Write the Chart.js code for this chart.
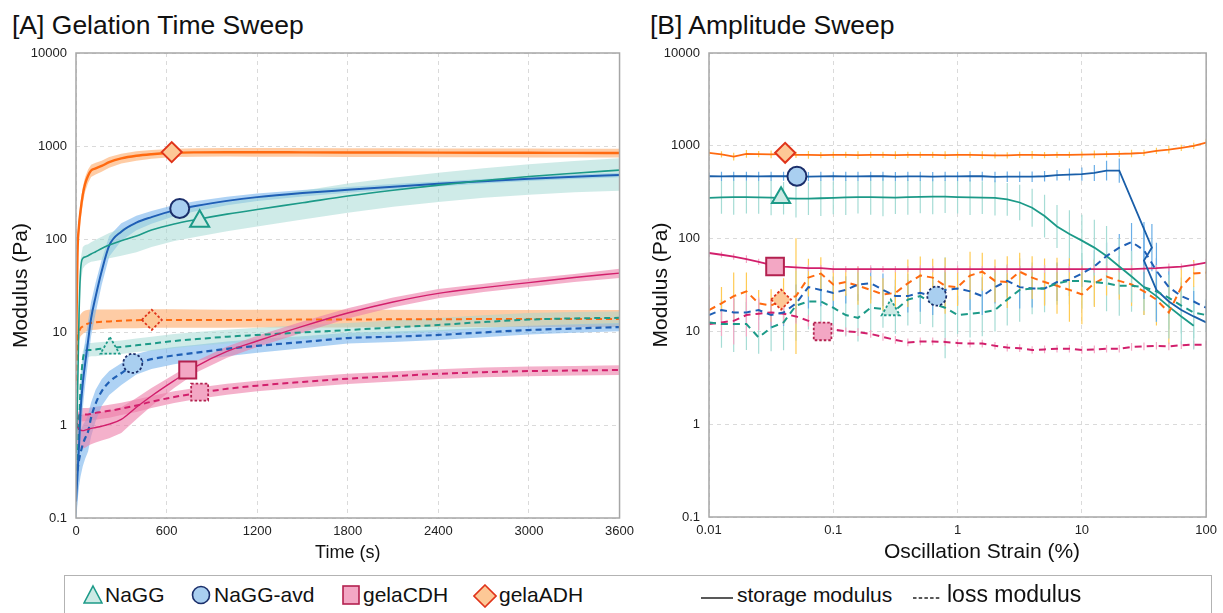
<!DOCTYPE html>
<html>
<head>
<meta charset="utf-8">
<script src="https://cdn.jsdelivr.net/npm/chart.js@4.4.1/dist/chart.umd.min.js"></script>
<style>
  body { margin: 0; background: #fff; font-family: "Liberation Sans", Arial, sans-serif; }
  #wrap { position: relative; width: 1223px; height: 613px; overflow: hidden; }
  .title { position: absolute; top: 10px; font-size: 26.5px; line-height: 30px; color: #111; white-space: nowrap; }
  #cA { position: absolute; left: 0; top: 0; }
  #cB { position: absolute; left: 640px; top: 0; }
  #xtB { position: absolute; left: 884px; top: 539px; font-size: 21px; line-height: 24px; color: #111; white-space: nowrap; }
  #legend { position: absolute; left: 64px; top: 575px; width: 1148px; height: 50px; border: 1.5px solid #b3b3b3; box-sizing: border-box; }
  .it { position: absolute; top: 6px; font-size: 21px; line-height: 26px; color: #111; white-space: nowrap; }
  .ic { position: absolute; top: 8px; }
</style>
</head>
<body>
<div id="wrap">
  <div class="title" style="left:12px">[A] Gelation Time Sweep</div>
  <div class="title" style="left:650px">[B] Amplitude Sweep</div>
  <canvas id="cA" width="640" height="570"></canvas>
  <canvas id="cB" width="583" height="570"></canvas>
  <div id="xtB">Oscillation Strain (%)</div>
  <div id="legend">
    <svg class="ic" style="left:18px" width="20" height="22"><polygon points="10,2 19,19 1,19" fill="#cdeae5" stroke="#1c9a88" stroke-width="1.6"/></svg>
    <div class="it" style="left:40px">NaGG</div>
    <svg class="ic" style="left:126px" width="20" height="22"><circle cx="10" cy="11" r="8.5" fill="#a9cff0" stroke="#1b2f6b" stroke-width="1.6"/></svg>
    <div class="it" style="left:149px">NaGG-avd</div>
    <svg class="ic" style="left:276px" width="20" height="22"><rect x="2" y="2" width="16" height="18" fill="#f3a7c4" stroke="#b3214f" stroke-width="1.6"/></svg>
    <div class="it" style="left:298px">gelaCDH</div>
    <svg class="ic" style="left:408px" width="24" height="24"><polygon points="12,1 23,12 12,23 1,12" fill="#fdc896" stroke="#e0341a" stroke-width="1.6"/></svg>
    <div class="it" style="left:434px">gelaADH</div>
    <svg class="ic" style="left:636px" width="34" height="22"><line x1="0" y1="14" x2="32" y2="14" stroke="#222" stroke-width="1.5"/></svg>
    <div class="it" style="left:672px">storage modulus</div>
    <svg class="ic" style="left:848px" width="30" height="22"><line x1="0" y1="14" x2="27" y2="14" stroke="#222" stroke-width="1.5" stroke-dasharray="3.5,2.2"/></svg>
    <div class="it" style="left:882px; font-size:23px; top:5px">loss modulus</div>
  </div>
</div>
<script>
// ---------- [A] gelation time sweep ----------
const timeS = [0, 10, 20, 30, 45, 60, 80, 100, 130, 170, 220, 300, 400, 500, 650, 800, 1000, 1200, 1500, 1800, 2100, 2400, 2700, 3000, 3300, 3600];

// storage modulus (Pa) and SD band
const adhG   = [5, 70, 140, 200, 300, 390, 480, 545, 575, 610, 670, 735, 785, 815, 845, 855, 858, 858, 855, 852, 850, 848, 846, 845, 843, 841];
const adhGHi = [9, 95, 180, 250, 360, 460, 560, 630, 660, 695, 760, 825, 880, 905, 935, 945, 950, 952, 950, 948, 945, 942, 940, 938, 936, 935];
const adhGLo = [3, 50, 105, 155, 240, 320, 400, 465, 495, 530, 585, 650, 695, 730, 760, 765, 770, 768, 765, 762, 760, 758, 756, 754, 752, 750];
const ggG    = [0.5, 2, 15, 45, 62, 64, 66, 69, 73, 79, 86, 96, 108, 125, 145, 162, 185, 208, 245, 290, 335, 380, 425, 470, 510, 550];
const ggGHi  = [1, 3, 22, 60, 82, 86, 88, 92, 98, 106, 116, 130, 146, 168, 196, 220, 248, 278, 330, 395, 455, 515, 575, 635, 690, 740];
const ggGLo  = [0.3, 1.3, 10, 32, 48, 52, 55, 57, 58, 60, 62, 66, 72, 82, 95, 106, 121, 136, 162, 192, 222, 250, 277, 300, 318, 330];
const avdG   = [0.15, 0.3, 0.6, 1.4, 2.8, 4.5, 8, 14, 24, 45, 85, 120, 150, 172, 203, 228, 257, 282, 312, 338, 365, 392, 418, 445, 468, 488];
const avdGHi = [0.3, 0.6, 1.2, 2.6, 5, 8, 13, 21, 34, 60, 108, 148, 178, 200, 232, 256, 284, 308, 337, 362, 390, 416, 442, 470, 493, 515];
const avdGLo = [0.08, 0.15, 0.3, 0.7, 1.5, 2.6, 4.8, 9, 16, 32, 65, 96, 124, 146, 176, 200, 230, 256, 287, 314, 341, 368, 394, 420, 443, 462];
const cdhG   = [1.0, 0.95, 0.9, 0.88, 0.87, 0.88, 0.9, 0.92, 0.94, 0.97, 1.02, 1.15, 1.55, 2.05, 3.0, 4.3, 6.2, 8.0, 11.5, 16, 21, 26, 30, 34, 38.5, 43];
const cdhGHi = [1.5, 1.4, 1.35, 1.3, 1.3, 1.3, 1.3, 1.32, 1.35, 1.38, 1.42, 1.55, 1.95, 2.5, 3.5, 4.9, 7.0, 9.1, 13, 18, 23.5, 29, 33, 37.5, 42, 48];
const cdhGLo = [0.65, 0.6, 0.58, 0.56, 0.56, 0.57, 0.6, 0.62, 0.65, 0.68, 0.72, 0.82, 1.15, 1.6, 2.5, 3.7, 5.3, 6.9, 9.8, 14, 18.5, 23, 27, 30.5, 34.5, 38];

// loss modulus (Pa) and SD band
const adhL   = [3, 8, 10, 11, 11.5, 12, 12.3, 12.5, 12.7, 12.9, 13.0, 13.2, 13.4, 13.5, 13.5, 13.5, 13.5, 13.5, 13.6, 13.6, 13.7, 13.7, 13.8, 13.8, 13.8, 13.8];
const adhLHi = [5, 11, 14, 15.5, 16.5, 17, 17.3, 17.5, 17.5, 17.5, 17.5, 17.5, 17.6, 17.6, 17.6, 17.5, 17.4, 17.4, 17.3, 17.3, 17.3, 17.2, 17.2, 17.2, 17.2, 17.2];
const adhLLo = [2, 6, 8, 9, 9.5, 10, 10.3, 10.5, 10.6, 10.8, 10.9, 11, 11, 11.1, 11.1, 11.1, 11.1, 11.2, 11.2, 11.2, 11.3, 11.3, 11.3, 11.3, 11.3, 11.3];
const ggL    = [0.2, 0.4, 1.0, 2.5, 5, 6.2, 6.4, 6.4, 6.5, 6.6, 6.7, 6.9, 7.2, 7.5, 8.0, 8.4, 8.9, 9.3, 9.9, 10.5, 11.2, 11.9, 12.8, 13.6, 14, 14.2];
const ggLHi  = [0.3, 0.6, 1.4, 3.3, 6.2, 7.4, 7.6, 7.6, 7.7, 7.8, 7.9, 8.1, 8.5, 8.9, 9.5, 10, 10.6, 11.1, 11.8, 12.5, 13.3, 14.1, 15.1, 16, 16.4, 16.6];
const ggLLo  = [0.14, 0.28, 0.7, 1.8, 3.9, 5.1, 5.4, 5.5, 5.5, 5.6, 5.7, 5.8, 6.1, 6.3, 6.7, 7.1, 7.5, 7.9, 8.4, 8.9, 9.5, 10.1, 10.9, 11.6, 11.9, 12.1];
const avdL   = [0.25, 0.33, 0.42, 0.5, 0.62, 0.72, 0.85, 1.2, 1.7, 2.3, 2.9, 3.6, 4.6, 5.1, 5.6, 6.0, 6.6, 7.1, 7.8, 8.6, 8.9, 9.3, 9.9, 10.5, 10.9, 11.3];
const avdLHi = [0.5, 0.6, 0.75, 0.85, 1.0, 1.1, 1.3, 1.75, 2.4, 3.1, 3.8, 4.6, 5.8, 6.4, 6.9, 7.3, 7.9, 8.4, 9.0, 9.8, 10.1, 10.5, 11.1, 11.7, 12.1, 12.5];
const avdLLo = [0.1, 0.15, 0.22, 0.28, 0.36, 0.43, 0.52, 0.75, 1.1, 1.6, 2.1, 2.7, 3.5, 4.0, 4.5, 4.9, 5.5, 6.0, 6.7, 7.5, 7.8, 8.2, 8.8, 9.4, 9.8, 10.2];
const cdhL   = [0.9, 1.1, 1.25, 1.28, 1.3, 1.3, 1.3, 1.32, 1.35, 1.38, 1.42, 1.5, 1.62, 1.78, 2.0, 2.2, 2.45, 2.65, 2.9, 3.15, 3.35, 3.55, 3.7, 3.8, 3.85, 3.9];
const cdhLHi = [1.1, 1.3, 1.45, 1.5, 1.52, 1.52, 1.52, 1.54, 1.57, 1.6, 1.65, 1.74, 1.88, 2.05, 2.3, 2.52, 2.78, 3.0, 3.28, 3.55, 3.77, 3.98, 4.15, 4.26, 4.32, 4.38];
const cdhLLo = [0.72, 0.92, 1.06, 1.09, 1.1, 1.1, 1.1, 1.12, 1.14, 1.17, 1.2, 1.28, 1.38, 1.52, 1.72, 1.9, 2.12, 2.3, 2.53, 2.76, 2.94, 3.12, 3.26, 3.35, 3.4, 3.45];

// sample markers: NaGG, NaGG-avd, gelaCDH, gelaADH
const mkTimeG = [819, 687, 740, 634];
const mkValG  = [155, 213, 3.9, 860];
const mkTimeL = [225, 376, 819, 502];
const mkValL  = [6.7, 4.6, 2.26, 13.5];

// ---------- [B] amplitude sweep ----------
const strainPct = [0.01, 0.0126, 0.0158, 0.02, 0.0251, 0.0316, 0.0398, 0.0501, 0.0631, 0.0794,
  0.1, 0.126, 0.158, 0.2, 0.251, 0.316, 0.398, 0.501, 0.631, 0.794,
  1, 1.26, 1.58, 2, 2.51, 3.16, 3.98, 5.01, 6.31, 7.94,
  10, 12.6, 15.8, 20, 25.1, 31.6, 39.8, 50.1, 63.1, 79.4, 100];
const strainAvdG = [0.01, 0.0126, 0.0158, 0.02, 0.0251, 0.0316, 0.0398, 0.0501, 0.0631, 0.0794,
  0.1, 0.126, 0.158, 0.2, 0.251, 0.316, 0.398, 0.501, 0.631, 0.794,
  1, 1.26, 1.58, 2, 2.51, 3.16, 3.98, 5.01, 6.31, 7.94,
  10, 12.6, 15.8, 20, 36.6, 31.6, 39.8, 50.1, 63.1, 79.4, 100];

const adhGs = [840, 810, 765, 820, 815, 810, 820, 800, 800, 795, 800, 800, 795, 800, 800, 795, 800, 800, 800, 795,
  800, 800, 795, 790, 790, 800, 800, 795, 800, 800, 805, 810, 815, 820, 826, 840, 880, 910, 950, 1000, 1080];
const avdGs = [470, 468, 470, 470, 468, 470, 470, 472, 465, 468, 470, 468, 468, 470, 470, 465, 468, 468, 466, 468,
  468, 470, 470, 462, 465, 465, 465, 470, 482, 490, 495, 510, 540, 540, 80, 58, 28, 21, 17, 14.5, 12.5];
const ggGs  = [275, 278, 280, 280, 278, 276, 272, 270, 270, 272, 275, 278, 280, 280, 278, 276, 280, 282, 283, 283,
  280, 278, 276, 275, 265, 245, 215, 175, 135, 112, 95, 80, 65, 50, 39, 30, 24, 18.5, 14.5, 11.5, null];
const cdhGs = [70, 67, 64, 60, 56, 52, 50, 49, 48, 48, 47, 47, 47, 47, 47, 47, 47, 47, 47, 47,
  47, 47, 47, 47, 47, 47, 47, 47, 47, 47, 47, 47, 47, 47, 47, 47.5, 48, 49, 50, 52, 55];

const adhLs = [17, 20, 24, 27, 20, 19, 22, 24, 38, 42, 32, 34, 31, 28, 25, 26, 33, 40, 38, 31,
  30, 40, 44, 35, 34, 44, 38, 34, 31, 28, 25, 33, 39, 35, 32, 27, 22, 16, 30, 42, 43];
const avdLs = [15, 17, 16, 16, 17, 15, 16, 20, 30, 28, 26, 28, 32, 33, 28, 24, 24, 26, 24, 28,
  29, 27, 24, 30, 35, 30, 29, 29, 34, 36, 42, 50, 65, 80, 92, 75, 45, 30, 24, 21, 18];
const ggLs  = [12.5, 12, 12, 12, 8.6, 11, 12.5, 19, 21, 21, 18, 15, 14, 18, 17.5, 17, 22, 24, 20, 18,
  15, 15.5, 16, 17, 22, 28, 29, 29, 33, 35, 35, 34, 33, 31, 31, 30, 27, 23, 19, 16, 15];
const cdhLs = [12, 12.5, 13, 15, 15.5, 16, 15.5, 14.5, 13, 11.5, 10.5, 10, 9.8, 9.4, 8.7, 8.1, 7.6, 7.8, 7.8, 7.7,
  7.5, 7.4, 7.4, 7.0, 6.7, 6.6, 6.3, 6.4, 6.5, 6.5, 6.3, 6.4, 6.5, 6.5, 6.8, 6.9, 7.0, 6.9, 7.1, 7.2, 7.2];

// error bars as multiplicative factors (value*f .. value/f)
const adhGErr = [1.08, 1.08, 1.1, 1.1, 1.08, 1.1, 1.08, 1.08, 1.1, 1.08, 1.08, 1.08, 1.1, 1.08, 1.08, 1.1, 1.08, 1.08, 1.08, 1.1,
  1.08, 1.08, 1.1, 1.08, 1.08, 1.08, 1.1, 1.08, 1.08, 1.08, 1.08, 1.1, 1.08, 1.08, 1.1, 1.08, 1.08, 1.1, 1.08, 1.08, 1.1];
const avdGErr = [1.1, 1.12, 1.12, 1.12, 1.12, 1.12, 1.12, 1.12, 1.12, 1.12, 1.12, 1.12, 1.12, 1.12, 1.12, 1.12, 1.12, 1.12, 1.12, 1.12,
  1.12, 1.14, 1.12, 1.14, 1.14, 1.14, 1.14, 1.14, 1.14, 1.16, 1.18, 1.22, 1.28, 1.35, 1.8, 2.6, 2.2, 0, 0, 0, 0];
const ggGErr  = [1.5, 1.5, 1.55, 1.5, 1.5, 1.55, 1.5, 1.6, 1.5, 1.55, 1.5, 1.55, 1.5, 1.55, 1.6, 1.5, 1.55, 1.5, 1.55, 1.5,
  1.5, 1.55, 1.5, 1.55, 1.5, 1.55, 1.6, 1.7, 1.7, 1.8, 1.9, 2.0, 2.1, 2.0, 1.9, 1.8, 1.9, 2.2, 2.0, 1.8, 0];
const cdhGErr = [1.1, 1.08, 1.08, 1.1, 1.08, 1.08, 1.1, 1.08, 1.08, 1.08, 1.1, 1.08, 1.08, 1.1, 1.08, 1.08, 1.08, 1.1, 1.08, 1.08,
  1.1, 1.08, 1.08, 1.08, 1.1, 1.08, 1.08, 1.1, 1.08, 1.08, 1.08, 1.1, 1.08, 1.08, 1.1, 1.08, 1.08, 1.1, 1.08, 1.08, 1.1];
const adhLErr = [1.3, 1.5, 1.8, 1.6, 1.4, 1.5, 1.7, 4.2, 1.6, 1.5, 1.5, 1.4, 1.6, 1.4, 1.5, 1.7, 1.8, 1.6, 1.6, 2.0,
  1.6, 1.8, 1.6, 1.7, 1.9, 1.6, 1.7, 1.8, 2.0, 2.2, 2.1, 1.8, 1.6, 1.6, 1.7, 1.8, 1.9, 2.2, 1.6, 1.4, 1.2];
const avdLErr = [1.3, 1.3, 1.4, 1.3, 1.3, 1.4, 1.4, 1.6, 1.7, 1.5, 1.5, 1.4, 1.5, 1.5, 1.5, 1.5, 1.5, 1.6, 1.6, 1.6,
  1.5, 1.6, 1.6, 1.5, 1.5, 1.7, 1.6, 1.5, 1.6, 1.5, 1.4, 1.5, 1.4, 1.4, 1.6, 1.8, 2.0, 1.6, 1.4, 1.3, 1.2];
const ggLErr  = [1.8, 1.8, 2.0, 1.9, 1.5, 1.8, 2.0, 2.4, 2.0, 2.1, 1.8, 1.7, 1.8, 1.8, 1.6, 1.8, 1.9, 2.0, 1.8, 3.5,
  1.6, 1.8, 1.8, 1.7, 1.9, 2.2, 1.9, 1.8, 1.7, 1.8, 2.0, 1.8, 2.0, 2.1, 1.9, 2.0, 2.0, 2.2, 2.0, 1.9, 1.5];
const cdhLErr = [2.5, 1.4, 1.8, 1.7, 1.5, 1.4, 1.3, 1.2, 1.15, 1.12, 1.12, 1.1, 1.1, 1.1, 1.1, 1.1, 1.1, 1.1, 1.1, 1.1,
  1.1, 1.1, 1.1, 1.1, 1.1, 1.1, 1.1, 1.1, 1.1, 1.1, 1.1, 1.1, 1.1, 1.1, 1.1, 1.1, 1.1, 1.1, 1.1, 1.1, 1.1];

const mkStrainG = [0.038, 0.051, 0.034, 0.041];
const mkValGs   = [275, 470, 50, 840];
const mkStrainL = [0.29, 0.68, 0.082, 0.038];
const mkValLs   = [17, 24, 10, 22];

const decadesY = [0.1, 1, 10, 100, 1000, 10000];
const decadesX = [0.01, 0.1, 1, 10, 100];

// ---------- styling ----------
const C = {
  teal: '#1c9a88', blue: '#1f5fb5', pink: '#d21f6c', orange: '#ff6a10',
  tealBand: 'rgba(160,215,209,0.5)', blueBand: 'rgba(120,180,236,0.6)',
  pinkBand: 'rgba(236,125,168,0.6)', orangeBand: 'rgba(253,170,105,0.6)',
  tealErr: '#a6dcd5', blueErr: '#6aaee6', pinkErr: '#f4a9c5', orangeErr: '#ffcb55'
};
const mkStyle = ['triangle', 'circle', 'rect', 'rectRot'];
const mkFill = ['#cdeae5', '#a9cff0', '#f3a7c4', '#fdc896'];
const mkLine = ['#1c9a88', '#1b2f6b', '#b3214f', '#e0341a'];

Chart.defaults.font.family = '"Liberation Sans", Arial, sans-serif';
Chart.defaults.color = '#222';

const xy = (xs, ys) => xs.map((x, i) => ({x: x, y: ys[i]}));

function band(xs, lo, hi, color) {
  return [
    {data: xy(xs, lo), borderWidth: 0, pointRadius: 0, fill: false, order: 10},
    {data: xy(xs, hi), borderWidth: 0, pointRadius: 0, fill: '-1', backgroundColor: color, order: 10}
  ];
}
function curve(xs, ys, color, width, dashed, extra) {
  return Object.assign({
    data: xy(xs, ys), borderColor: color, borderWidth: width, pointRadius: 0, fill: false,
    borderDash: dashed ? [6, 4] : [], order: 5
  }, extra || {});
}
function markers(xs, ys, radii, dotted) {
  return {
    data: xy(xs, ys), showLine: false, pointStyle: mkStyle, pointRadius: radii,
    pointBackgroundColor: mkFill, pointBorderColor: mkLine, pointBorderWidth: dotted ? 1.8 : 2,
    dotted: dotted, order: 0
  };
}

const boxPlugin = {
  id: 'box',
  afterDraw(chart) {
    const {ctx, chartArea: a} = chart;
    ctx.save();
    ctx.strokeStyle = '#a6a6a6';
    ctx.lineWidth = 1.5;
    ctx.strokeRect(a.left, a.top, a.right - a.left, a.bottom - a.top);
    ctx.restore();
  }
};
const errPlugin = {
  id: 'errbars',
  beforeDatasetsDraw(chart) {
    const {ctx, chartArea: a} = chart;
    const ys = chart.scales.y;
    ctx.save();
    ctx.beginPath();
    ctx.rect(a.left, a.top, a.right - a.left, a.bottom - a.top);
    ctx.clip();
    chart.data.datasets.forEach((ds, i) => {
      if (!ds.errF) return;
      const meta = chart.getDatasetMeta(i);
      ctx.strokeStyle = ds.errColor;
      ctx.lineWidth = 1.2;
      meta.data.forEach((pt, j) => {
        const v = ds.data[j].y, f = ds.errF[j];
        if (v == null || !f) return;
        ctx.beginPath();
        ctx.moveTo(pt.x, ys.getPixelForValue(v * f));
        ctx.lineTo(pt.x, ys.getPixelForValue(v / f));
        ctx.stroke();
      });
    });
    ctx.restore();
  }
};
const dotPlugin = {
  id: 'dots',
  beforeDatasetDraw(chart, args) {
    if (chart.data.datasets[args.index].dotted) { chart.ctx.save(); chart.ctx.setLineDash([2.5, 2]); }
  },
  afterDatasetDraw(chart, args) {
    if (chart.data.datasets[args.index].dotted) chart.ctx.restore();
  }
};

function yAxis(width) {
  return {
    type: 'logarithmic', min: 0.1, max: 10000,
    afterBuildTicks(s) { s.ticks = decadesY.map(v => ({value: v})); },
    afterFit(s) { s.width = width; },
    ticks: {callback: v => String(v), font: {size: 13}, padding: 9, autoSkip: false},
    grid: {color: '#dadada', drawTicks: false},
    border: {display: false, dash: [4, 4]},
    title: {display: true, text: 'Modulus (Pa)', font: {size: 21}, color: '#111', padding: {top: 9, bottom: 0}}
  };
}
function baseOptions(xScale, yWidth, padRight) {
  return {
    responsive: false, animation: false, events: [], devicePixelRatio: 1,
    layout: {padding: {left: 0, top: 53, right: padRight, bottom: 0}},
    plugins: {legend: {display: false}, tooltip: {enabled: false}},
    scales: {x: xScale, y: yAxis(yWidth)}
  };
}

// ---------- chart A ----------
new Chart(document.getElementById('cA'), {
  type: 'line',
  data: {
    datasets: [
      ...band(timeS, ggGLo, ggGHi, C.tealBand),
      ...band(timeS, avdGLo, avdGHi, C.blueBand),
      ...band(timeS, cdhGLo, cdhGHi, C.pinkBand),
      ...band(timeS, adhGLo, adhGHi, C.orangeBand),
      ...band(timeS, ggLLo, ggLHi, C.tealBand),
      ...band(timeS, avdLLo, avdLHi, C.blueBand),
      ...band(timeS, cdhLLo, cdhLHi, C.pinkBand),
      ...band(timeS, adhLLo, adhLHi, C.orangeBand),
      curve(timeS, ggG, C.teal, 1.6, false, {cubicInterpolationMode: 'monotone'}),
      curve(timeS, avdG, C.blue, 2, false, {cubicInterpolationMode: 'monotone'}),
      curve(timeS, cdhG, C.pink, 1.4, false, {cubicInterpolationMode: 'monotone'}),
      curve(timeS, adhG, C.orange, 2.4, false, {cubicInterpolationMode: 'monotone'}),
      curve(timeS, ggL, C.teal, 2, true, {cubicInterpolationMode: 'monotone'}),
      curve(timeS, avdL, C.blue, 2.2, true, {cubicInterpolationMode: 'monotone'}),
      curve(timeS, cdhL, C.pink, 2, true, {cubicInterpolationMode: 'monotone'}),
      curve(timeS, adhL, C.orange, 2, true, {cubicInterpolationMode: 'monotone'}),
      markers(mkTimeG, mkValG, [11, 9.5, 12, 10], false),
      markers(mkTimeL, mkValL, [11, 9.5, 12, 10], true)
    ]
  },
  options: baseOptions({
    type: 'linear', min: 0, max: 3600,
    afterFit(s) { s.height = 52; },
    ticks: {stepSize: 600, callback: v => String(v), font: {size: 13}, padding: 6, autoSkip: false},
    grid: {color: '#dadada', drawTicks: false},
    border: {display: false, dash: [4, 4]},
    title: {display: true, text: 'Time (s)', font: {size: 18}, color: '#111', padding: {top: 0, bottom: 6}}
  }, 76, 19),
  plugins: [boxPlugin, errPlugin, dotPlugin]
});

// ---------- chart B ----------
function sweep(xs, ys, color, dashed, err, errColor) {
  return curve(xs, ys, color, dashed ? 2 : 1.8, false, {
    borderDash: dashed ? [7, 5] : [], errF: err, errColor: errColor, spanGaps: false
  });
}
new Chart(document.getElementById('cB'), {
  type: 'line',
  data: {
    datasets: [
      sweep(strainPct, ggLs, C.teal, true, ggLErr, C.tealErr),
      sweep(strainPct, avdLs, C.blue, true, avdLErr, C.blueErr),
      sweep(strainPct, adhLs, C.orange, true, adhLErr, C.orangeErr),
      sweep(strainPct, cdhLs, C.pink, true, cdhLErr, C.pinkErr),
      sweep(strainPct, ggGs, C.teal, false, ggGErr, C.tealErr),
      sweep(strainAvdG, avdGs, '#1a5ea8', false, avdGErr, C.blueErr),
      sweep(strainPct, cdhGs, C.pink, false, cdhGErr, C.pinkErr),
      sweep(strainPct, adhGs, C.orange, false, adhGErr, C.orangeErr),
      markers(mkStrainG, mkValGs, [10.5, 9.5, 12.5, 10], false),
      markers(mkStrainL, mkValLs, [10.5, 9.5, 12.5, 10], true)
    ]
  },
  options: baseOptions({
    type: 'logarithmic', min: 0.01, max: 100,
    afterBuildTicks(s) { s.ticks = decadesX.map(v => ({value: v})); },
    afterFit(s) { s.height = 53; },
    ticks: {callback: v => String(v), font: {size: 13}, padding: 6, autoSkip: false},
    grid: {color: '#dadada', drawTicks: false},
    border: {display: false, dash: [4, 4]},
    title: {display: false}
  }, 69, 10),
  plugins: [boxPlugin, errPlugin, dotPlugin]
});
</script>
</body>
</html>
